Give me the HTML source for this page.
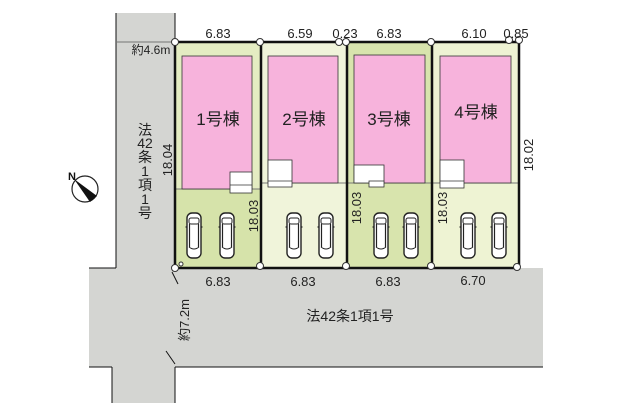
<!DOCTYPE html>
<html><head><meta charset="utf-8"><style>
html,body{margin:0;padding:0;background:#fff;}
svg{display:block;font-family:"Liberation Sans","Noto Sans CJK JP",sans-serif;}
</style></head><body>
<svg width="620" height="413" viewBox="0 0 620 413" xmlns="http://www.w3.org/2000/svg">
<defs>
<g id="car">
<rect x="0" y="0" width="14" height="45" rx="5" fill="#fff" stroke="#222" stroke-width="1.4"/>
<rect x="2" y="5" width="10" height="6" rx="2" fill="#fff" stroke="#222" stroke-width="1"/>
<line x1="2.5" y1="11" x2="2.5" y2="34" stroke="#222" stroke-width="1.2"/>
<line x1="11.5" y1="11" x2="11.5" y2="34" stroke="#222" stroke-width="1.2"/>
<path d="M2 34 Q7 38 12 34" fill="none" stroke="#222" stroke-width="1"/>
<line x1="-1.5" y1="14" x2="0" y2="14" stroke="#222" stroke-width="1.2"/>
<line x1="14" y1="14" x2="15.5" y2="14" stroke="#222" stroke-width="1.2"/>
</g>
</defs>
<rect x="116" y="13" width="59" height="256" fill="#d4d5d2"/>
<rect x="89" y="268" width="454" height="99" fill="#d4d5d2"/>
<rect x="112" y="366" width="63" height="37" fill="#d4d5d2"/>
<g stroke="#111" stroke-width="1" fill="none">
<line x1="116" y1="13" x2="116" y2="268"/>
<line x1="89" y1="268" x2="116" y2="268"/>
<line x1="89" y1="367" x2="112" y2="367"/>
<line x1="112" y1="367" x2="112" y2="403"/>
<line x1="175" y1="367" x2="543" y2="367"/>
<line x1="175" y1="367" x2="175" y2="403"/>
<line x1="175" y1="13" x2="175" y2="42"/>
<line x1="117" y1="42" x2="175" y2="42" stroke="#555" stroke-width="0.8"/>
<line x1="172" y1="272" x2="178" y2="284"/>
<line x1="166" y1="351" x2="175" y2="364"/>
</g>
<rect x="175" y="42" width="86" height="147" fill="#e4ecc2"/>
<rect x="175" y="189" width="86" height="79" fill="#d6e3aa"/>
<rect x="261" y="42" width="86" height="226" fill="#f0f4da"/>
<rect x="347" y="42" width="85" height="226" fill="#d8e4ad"/>
<rect x="432" y="42" width="87" height="226" fill="#eef3d3"/>
<g stroke="#777" stroke-width="1">
<line x1="175" y1="189" x2="261" y2="189"/>
<line x1="261" y1="183" x2="347" y2="183"/>
<line x1="347" y1="183" x2="432" y2="183"/>
<line x1="432" y1="183" x2="519" y2="183"/>
</g>
<g fill="#f7b3dc" stroke="#333" stroke-width="0.8">
<rect x="182" y="56" width="70" height="133"/>
<rect x="268" y="56" width="70" height="127"/>
<rect x="354" y="55" width="71" height="128"/>
<rect x="440" y="56" width="71" height="127"/>
</g>
<g fill="#fff" stroke="#333" stroke-width="0.8">
<rect x="230" y="172" width="22" height="21"/><line x1="230" y1="185" x2="252" y2="185"/>
<rect x="268" y="160" width="24" height="27"/><line x1="268" y1="181" x2="292" y2="181"/>
<rect x="354" y="165" width="30" height="18"/><rect x="369" y="181" width="15" height="6"/>
<rect x="440" y="160" width="24" height="28"/><line x1="440" y1="181" x2="464" y2="181"/>
</g>
<use href="#car" x="187" y="213"/><use href="#car" x="220" y="213"/>
<use href="#car" x="287" y="213"/><use href="#car" x="319" y="213"/>
<use href="#car" x="374" y="213"/><use href="#car" x="404" y="213"/>
<use href="#car" x="461" y="213"/><use href="#car" x="492" y="213"/>
<g stroke="#111" stroke-width="2.5" fill="none">
<rect x="175" y="42" width="344" height="226"/>
<line x1="261" y1="42" x2="261" y2="268"/>
<line x1="347" y1="42" x2="347" y2="268"/>
<line x1="432" y1="42" x2="432" y2="268"/>
</g>
<g fill="#fff" stroke="#333" stroke-width="1">
<circle cx="175" cy="42" r="3.5"/><circle cx="260" cy="42" r="3.5"/><circle cx="339" cy="42" r="3.5"/><circle cx="346" cy="42" r="3.5"/><circle cx="431" cy="42" r="3.5"/><circle cx="509" cy="40" r="3.5"/><circle cx="519" cy="40" r="3.5"/>
<circle cx="175" cy="268" r="3.5"/><circle cx="260" cy="266" r="3.5"/><circle cx="346" cy="266" r="3.5"/><circle cx="431" cy="266" r="3.5"/><circle cx="517" cy="267" r="3.5"/>
<circle cx="181" cy="264" r="2"/>
</g>
<circle cx="85" cy="189" r="13" fill="#fff" stroke="#222" stroke-width="1.2"/>
<path d="M74 179 L97 196 L90 202 Z" fill="#111"/>
<text x="68" y="180" font-size="11" font-weight="bold" fill="#111">N</text>
<g font-size="13" fill="#222" text-anchor="middle">
<text x="218" y="38">6.83</text>
<text x="300" y="38">6.59</text>
<text x="345" y="38">0.23</text>
<text x="389" y="38">6.83</text>
<text x="474" y="38">6.10</text>
<text x="516" y="38">0.85</text>
<text x="218" y="286">6.83</text>
<text x="303" y="286">6.83</text>
<text x="388" y="286">6.83</text>
<text x="473" y="285">6.70</text>
<text x="350" y="321" font-size="14">法42条1項1号</text>
<text x="151" y="54" font-size="12">約4.6m</text>
<text transform="translate(172,160) rotate(-90)">18.04</text>
<text transform="translate(258,216) rotate(-90)">18.03</text>
<text transform="translate(361,208) rotate(-90)">18.03</text>
<text transform="translate(447,208) rotate(-90)">18.03</text>
<text transform="translate(533,155) rotate(-90)">18.02</text>
<text transform="translate(189,320) rotate(-90)">約7.2m</text>
</g>
<g font-size="17" fill="#222" text-anchor="middle">
<text x="218" y="125">1号棟</text>
<text x="304" y="125">2号棟</text>
<text x="389" y="125">3号棟</text>
<text x="476" y="118">4号棟</text>
</g>
<g font-size="14" fill="#222" text-anchor="middle">
<text x="145" y="135">法</text>
<text x="145" y="148">42</text>
<text x="145" y="162">条</text>
<text x="145" y="176">1</text>
<text x="145" y="190">項</text>
<text x="145" y="204">1</text>
<text x="145" y="218">号</text>
</g>
</svg>
</body></html>
